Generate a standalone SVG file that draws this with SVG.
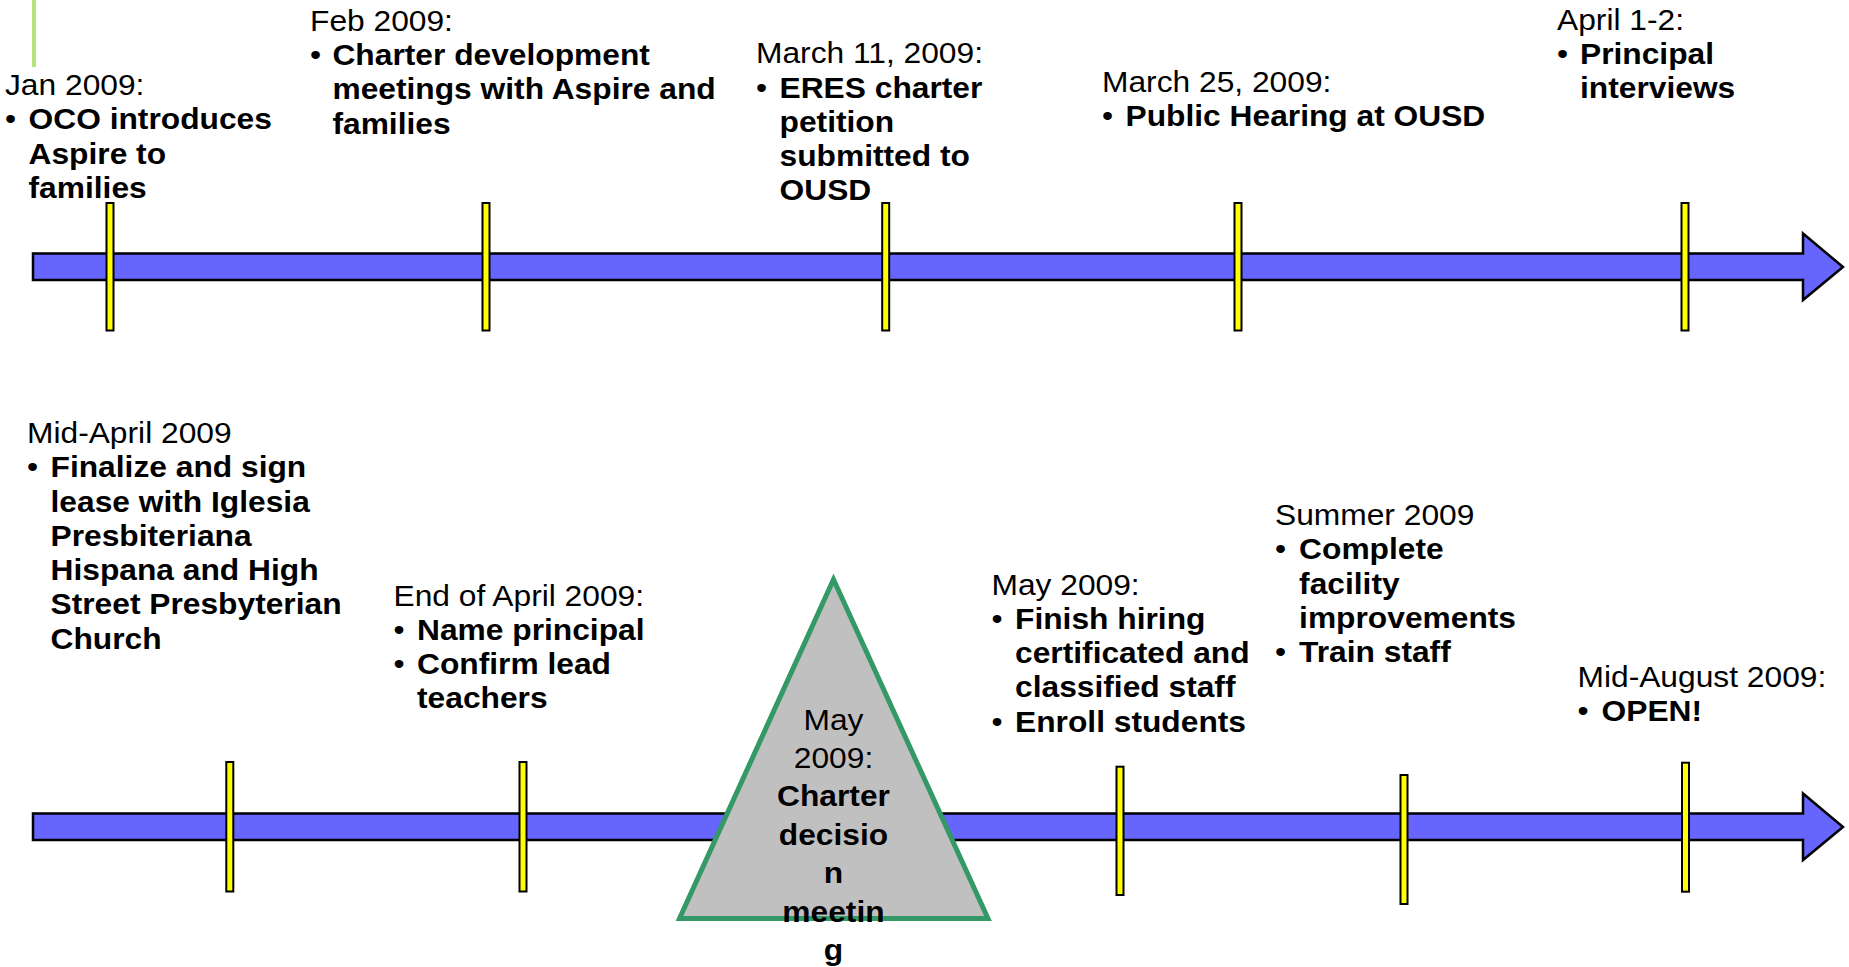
<svg xmlns="http://www.w3.org/2000/svg" width="1849" height="967" viewBox="0 0 1849 967">
<style>
.t{font-family:"Liberation Sans",Arial,sans-serif;font-size:29px;fill:#000}
.b{font-weight:bold}
.arrow{fill:#6666FF;stroke:#000;stroke-width:2.5;stroke-linejoin:miter}
.tick{fill:#FFFF00;stroke:#000;stroke-width:2}
.tri{fill:#C0C0C0;stroke:#339966;stroke-width:5}
</style>
<rect x="0" y="0" width="1849" height="967" fill="#FFFFFF"/>
<rect x="32" y="0" width="4" height="67" fill="#B5E27D"/>
<g id="connectors">
  <polygon class="arrow" points="33,253.5 1803,253.5 1803,233.5 1843,267 1803,300 1803,280 33,280"/>
  <polygon class="arrow" points="33,813.5 1803,813.5 1803,793.5 1843,827 1803,860 1803,840 33,840"/>
</g>
<g id="ticks">
  <rect class="tick" x="106.5" y="203" width="7" height="127.5"/>
  <rect class="tick" x="482.5" y="203" width="7" height="127.5"/>
  <rect class="tick" x="882.2" y="203" width="7" height="127.5"/>
  <rect class="tick" x="1234.5" y="203" width="7" height="127.5"/>
  <rect class="tick" x="1681.5" y="203" width="7" height="127.5"/>
  <rect class="tick" x="226.3" y="762" width="7" height="129.5"/>
  <rect class="tick" x="519.5" y="762" width="7" height="129.5"/>
  <rect class="tick" x="1116.5" y="766.7" width="7" height="128.3"/>
  <rect class="tick" x="1400.5" y="775" width="7" height="129"/>
  <rect class="tick" x="1682" y="762.7" width="7" height="129"/>
</g>
<g id="jan2009">
  <text class="t" transform="translate(5,95) scale(1.095,1)"><tspan x="0" y="0">Jan 2009:</tspan><tspan x="0" y="34.3">•</tspan><tspan class="b" x="21.5" y="34.3">OCO introduces</tspan><tspan class="b" x="21.5" y="68.6">Aspire to</tspan><tspan class="b" x="21.5" y="102.9">families</tspan></text>
</g>
<g id="feb2009">
  <text class="t" transform="translate(310,30.7) scale(1.095,1)"><tspan x="0" y="0">Feb 2009:</tspan><tspan x="0" y="34.3">•</tspan><tspan class="b" x="20.5" y="34.3">Charter development</tspan><tspan class="b" x="20.5" y="68.6">meetings with Aspire and</tspan><tspan class="b" x="20.5" y="102.9">families</tspan></text>
</g>
<g id="mar11">
  <text class="t" transform="translate(756,63.3) scale(1.095,1)"><tspan x="0" y="0">March 11, 2009:</tspan><tspan x="0" y="34.3">•</tspan><tspan class="b" x="21.5" y="34.3">ERES charter</tspan><tspan class="b" x="21.5" y="68.6">petition</tspan><tspan class="b" x="21.5" y="102.9">submitted to</tspan><tspan class="b" x="21.5" y="137.2">OUSD</tspan></text>
</g>
<g id="mar25">
  <text class="t" transform="translate(1102,91.7) scale(1.095,1)"><tspan x="0" y="0">March 25, 2009:</tspan><tspan x="0" y="34.3">•</tspan><tspan class="b" x="21.5" y="34.3">Public Hearing at OUSD</tspan></text>
</g>
<g id="apr1-2">
  <text class="t" transform="translate(1557,29.5) scale(1.095,1)"><tspan x="0" y="0">April 1-2:</tspan><tspan x="0" y="34.3">•</tspan><tspan class="b" x="21" y="34.3">Principal</tspan><tspan class="b" x="21" y="68.6">interviews</tspan></text>
</g>
<g id="midapril2009">
  <text class="t" transform="translate(27,443) scale(1.095,1)"><tspan x="0" y="0">Mid-April 2009</tspan><tspan x="0" y="34.3">•</tspan><tspan class="b" x="21.5" y="34.3">Finalize and sign</tspan><tspan class="b" x="21.5" y="68.6">lease with Iglesia</tspan><tspan class="b" x="21.5" y="102.9">Presbiteriana</tspan><tspan class="b" x="21.5" y="137.2">Hispana and High</tspan><tspan class="b" x="21.5" y="171.5">Street Presbyterian</tspan><tspan class="b" x="21.5" y="205.8">Church</tspan></text>
</g>
<g id="endapril2009">
  <text class="t" transform="translate(393.5,605.5) scale(1.095,1)"><tspan x="0" y="0">End of April 2009:</tspan><tspan x="0" y="34.3">•</tspan><tspan class="b" x="21.5" y="34.3">Name principal</tspan><tspan x="0" y="68.6">•</tspan><tspan class="b" x="21.5" y="68.6">Confirm lead</tspan><tspan class="b" x="21.5" y="102.9">teachers</tspan></text>
</g>
<g id="decision">
  <polygon class="tri" points="833.5,579.5 679.5,918.5 988,918.5"/>
  <text class="t" text-anchor="middle" transform="translate(833.5,729.5) scale(1.095,1)"><tspan x="0" y="0">May</tspan><tspan x="0" y="38.5">2009:</tspan><tspan class="b" x="0" y="77">Charter</tspan><tspan class="b" x="0" y="115.5">decisio</tspan><tspan class="b" x="0" y="154">n</tspan><tspan class="b" x="0" y="192.5">meetin</tspan><tspan class="b" x="0" y="231">g</tspan></text>
</g>
<g id="may2009">
  <text class="t" transform="translate(991.5,594.5) scale(1.095,1)"><tspan x="0" y="0">May 2009:</tspan><tspan x="0" y="34.3">•</tspan><tspan class="b" x="21.5" y="34.3">Finish hiring</tspan><tspan class="b" x="21.5" y="68.6">certificated and</tspan><tspan class="b" x="21.5" y="102.9">classified staff</tspan><tspan x="0" y="137.2">•</tspan><tspan class="b" x="21.5" y="137.2">Enroll students</tspan></text>
</g>
<g id="summer2009">
  <text class="t" transform="translate(1275,525) scale(1.095,1)"><tspan x="0" y="0">Summer 2009</tspan><tspan x="0" y="34.3">•</tspan><tspan class="b" x="22" y="34.3">Complete</tspan><tspan class="b" x="22" y="68.6">facility</tspan><tspan class="b" x="22" y="102.9">improvements</tspan><tspan x="0" y="137.2">•</tspan><tspan class="b" x="22" y="137.2">Train staff</tspan></text>
</g>
<g id="midaug2009">
  <text class="t" transform="translate(1577.5,686.7) scale(1.095,1)"><tspan x="0" y="0">Mid-August 2009:</tspan><tspan x="0" y="34.3">•</tspan><tspan class="b" x="22" y="34.3">OPEN!</tspan></text>
</g>
</svg>
